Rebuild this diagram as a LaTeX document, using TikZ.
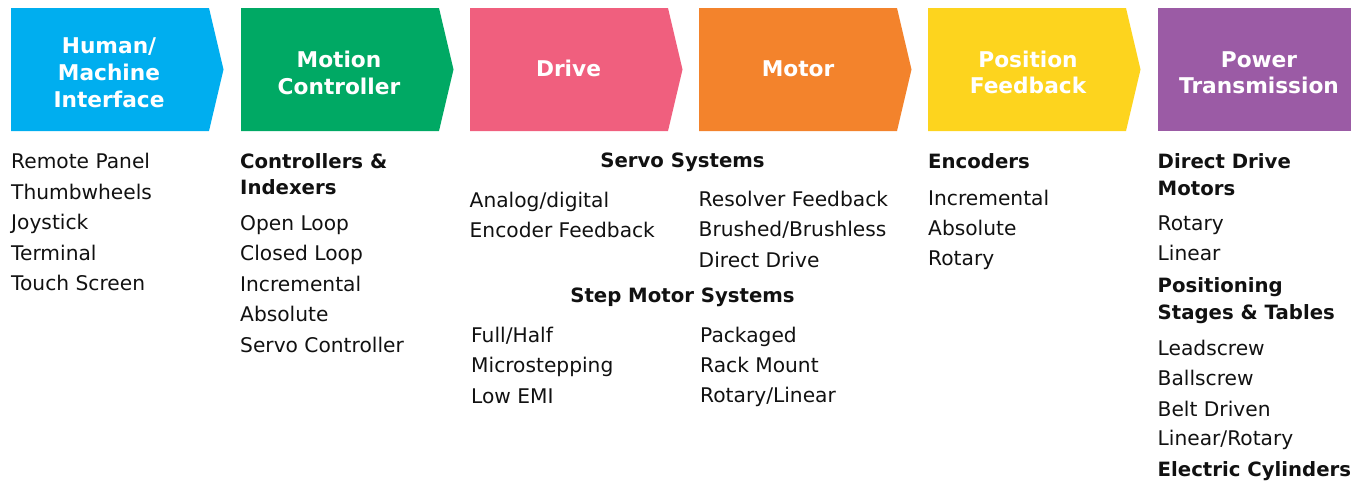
\documentclass[tikz,border=0pt]{standalone}
\usepackage{fontspec}
\setmainfont{DejaVu Sans}
\definecolor{cHMI}{HTML}{00AEEF}
\definecolor{cMC}{HTML}{00A964}
\definecolor{cDrv}{HTML}{F05F7E}
\definecolor{cMot}{HTML}{F3832C}
\definecolor{cPos}{HTML}{FDD41E}
\definecolor{cPow}{HTML}{9B5BA5}
\definecolor{txt}{HTML}{111111}
\newcommand\chevbox[3]{\fill[#1] (#2,8) -- ++(198,0) -- ++(14.5,61.5) -- ++(-14.5,61.5) -- ++(-198,0) -- cycle; \coordinate (#3) at (#2,8);}
\begin{document}
\begin{tikzpicture}[x=1pt,y=-1pt,
  hd/.style={anchor=base, inner sep=0pt, text=white, font=\fontsize{21.7}{26}\selectfont\bfseries},
  item/.style={anchor=base west, inner sep=0pt, text=txt, font=\fontsize{20.2}{24}\selectfont},
  itemb/.style={anchor=base west, inner sep=0pt, text=txt, font=\fontsize{19.7}{24}\selectfont\bfseries},
  itemc/.style={anchor=base, inner sep=0pt, text=txt, font=\fontsize{19.7}{24}\selectfont\bfseries}]
\useasboundingbox (0,0) rectangle (1351,480);
% header chevrons
\chevbox{cHMI}{11}{b1}
\chevbox{cMC}{241}{b2}
\chevbox{cDrv}{470}{b3}
\chevbox{cMot}{699}{b4}
\chevbox{cPos}{928}{b5}
\fill[cPow] (1158,8) rectangle (1351,131);
\coordinate (b6) at (1158,8);
% header texts
\node[hd] (h1a) at (109,53.3) {Human/};
\node[hd] (h1b) at (109,80) {Machine};
\node[hd] (h1c) at (109,107.3) {Interface};
\node[hd] (h2a) at (339,67.7) {Motion};
\node[hd] (h2b) at (339,94.3) {Controller};
\node[hd] (h3a) at (568.5,76) {Drive};
\node[hd] (h4a) at (798,76) {Motor};
\node[hd] (h5a) at (1028,67.7) {Position};
\node[hd] (h5b) at (1028,93.3) {Feedback};
\node[hd] (h6a) at (1259,67.7) {Power};
\node[hd] (h6b) at (1259,93.3) {Transmission};
% column 1
\node[item] (c1a) at (11,168.3) {Remote Panel};
\node[item] (c1b) at (11,199.3) {Thumbwheels};
\node[item] (c1c) at (11,229.3) {Joystick};
\node[item] (c1d) at (11,260) {Terminal};
\node[item] (c1e) at (11,290.7) {Touch Screen};
% column 2
\node[itemb] (c2h1) at (240,168.3) {Controllers \&};
\node[itemb] (c2h2) at (240,194.7) {Indexers};
\node[item] (c2a) at (240,230) {Open Loop};
\node[item] (c2b) at (240,260.5) {Closed Loop};
\node[item] (c2c) at (240,291.3) {Incremental};
\node[item] (c2d) at (240,321.7) {Absolute};
\node[item] (c2e) at (240,352) {Servo Controller};
% drive / motor
\node[itemc] (c3h1) at (682.5,167.3) {Servo Systems};
\node[item] (c3a) at (469.5,207.5) {Analog/digital};
\node[item] (c3b) at (469.5,237.5) {Encoder Feedback};
\node[item] (c3c) at (698.5,206) {Resolver Feedback};
\node[item] (c3d) at (698.5,236.7) {Brushed/Brushless};
\node[item] (c3e) at (698.5,267.3) {Direct Drive};
\node[itemc] (c3h2) at (682.5,302.5) {Step Motor Systems};
\node[item] (c3f) at (471,342.7) {Full/Half};
\node[item] (c3g) at (471,372.7) {Microstepping};
\node[item] (c3h) at (471,403.5) {Low EMI};
\node[item] (c3i) at (700,342.7) {Packaged};
\node[item] (c3j) at (700,372.3) {Rack Mount};
\node[item] (c3k) at (700,402) {Rotary/Linear};
% position feedback
\node[itemb] (c5h) at (928,168.3) {Encoders};
\node[item] (c5a) at (928,205) {Incremental};
\node[item] (c5b) at (928,235.7) {Absolute};
\node[item] (c5c) at (928,265.5) {Rotary};
% power transmission
\node[itemb] (c6h1) at (1157.5,168.3) {Direct Drive};
\node[itemb] (c6h2) at (1157.5,195) {Motors};
\node[item] (c6a) at (1157.5,230.7) {Rotary};
\node[item] (c6b) at (1157.5,260.7) {Linear};
\node[itemb] (c6h3) at (1157.5,292.7) {Positioning};
\node[itemb] (c6h4) at (1157.5,319.3) {Stages \& Tables};
\node[item] (c6c) at (1157.5,355) {Leadscrew};
\node[item] (c6d) at (1157.5,385) {Ballscrew};
\node[item] (c6e) at (1157.5,416) {Belt Driven};
\node[item] (c6f) at (1157.5,445.7) {Linear/Rotary};
\node[itemb] (c6h5) at (1157.5,476.7) {Electric Cylinders};
\end{tikzpicture}
\end{document}
